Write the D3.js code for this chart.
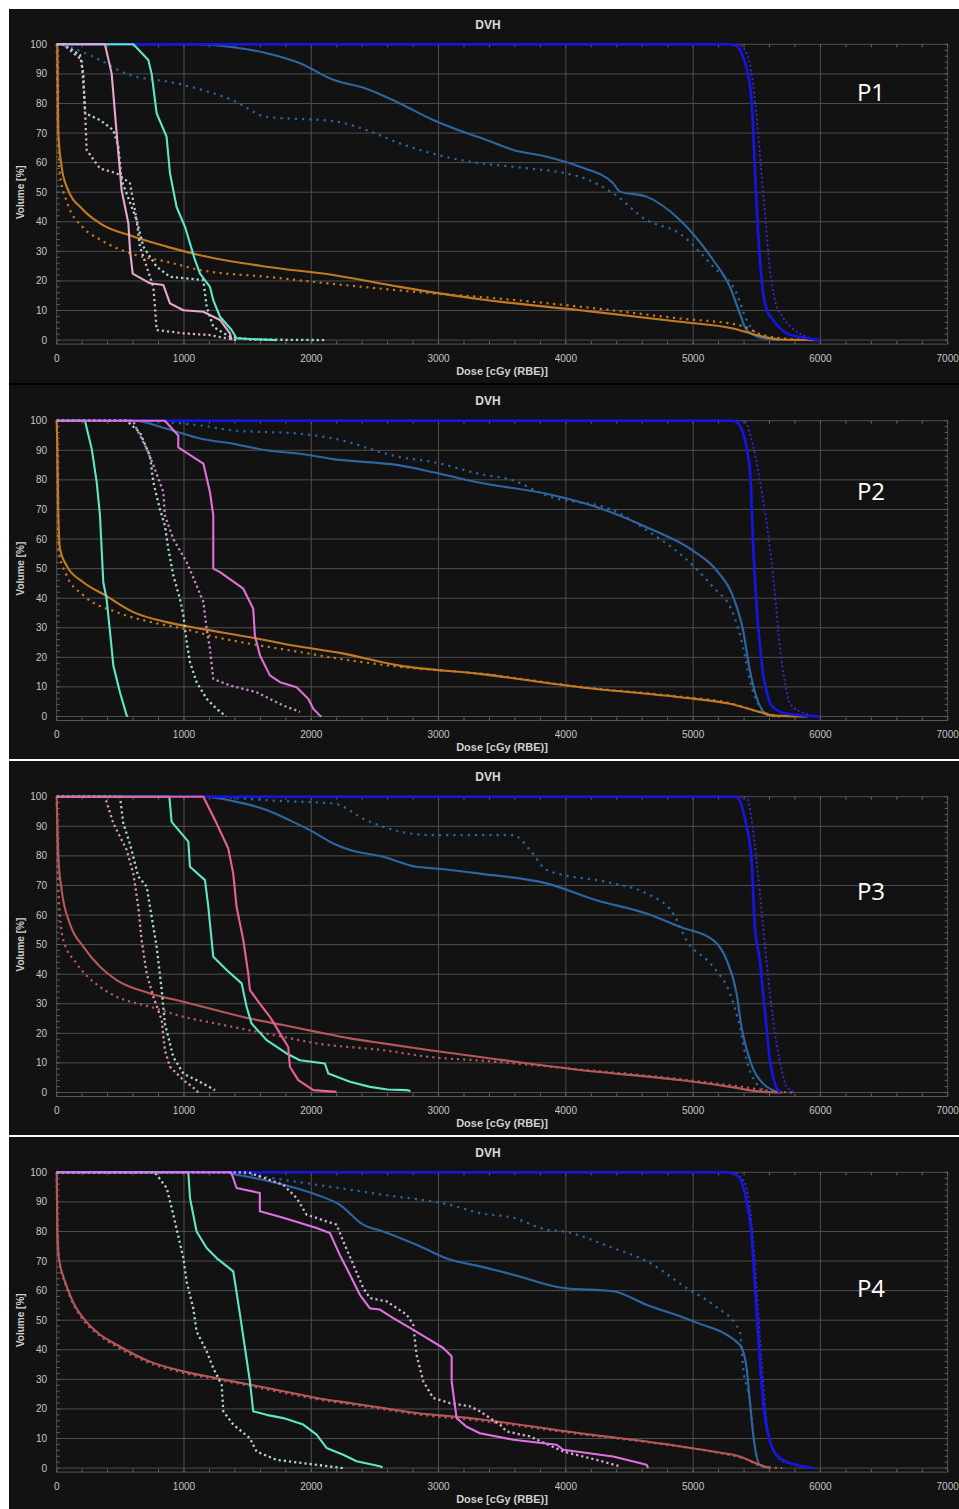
<!DOCTYPE html>
<html><head><meta charset="utf-8">
<script src="https://cdn.jsdelivr.net/npm/d3@7"></script>
<style>html,body{margin:0;padding:0;background:#fff;}svg{display:block;}</style>
</head><body>
<script>
// ---------------- DATA ----------------
const DOSE_TICKS = [0,1000,2000,3000,4000,5000,6000,7000];
const VOL_TICKS = [0,10,20,30,40,50,60,70,80,90,100];
const PANEL_LABELS = ["P1","P2","P3","P4"];
const CHART_TITLE = "DVH";
const X_TITLE = "Dose [cGy (RBE)]";
const Y_TITLE = "Volume [%]";

// Panel 1
const p1PtvSolid = [[0,100],[5250,100],[5340,99.5],[5390,96],[5420,92],[5459,81],[5485,58],[5511,36],[5535,22],[5550,16],[5580,10],[5629,6.8],[5734,2.3],[5850,1],[6000,0]];
const p1PtvDot = [[0,100],[5350,100],[5420,97],[5460,90],[5500,75],[5540,55],[5570,40],[5600,25],[5640,14],[5700,8],[5780,4],[5870,1.5],[6000,0]];
const p1SteelSolid = [[0,100],[1100,100],[1387,99],[1650,97],[1911,93.6],[2173,88],[2435,85],[2696,80],[2958,74.4],[3220,70],[3325,68.5],[3587,64.3],[3849,62],[4111,58.6],[4372,53],[4425,50.2],[4634,48.5],[4896,40.6],[5158,27],[5289,18],[5367,9],[5420,3.4],[5550,0.6],[5680,0]];
const p1SteelDot = [[0,100],[100,99],[340,94.7],[550,90],[942,86.8],[1387,81],[1649,75.5],[2173,74],[2435,71],[2696,66.5],[2958,63],[3325,59.8],[3587,58.6],[4111,55.2],[4372,49.6],[4634,40.6],[4896,36],[5158,24.8],[5341,15.8],[5420,6.8],[5550,1],[5680,0]];
const p1OrangeSolid = [[0,100],[5,99],[13,70],[39,58.6],[78,51.9],[209,44],[340,39.5],[602,35],[864,31.6],[1126,28.7],[1649,24.8],[2173,22],[2696,18],[3325,13.8],[4111,10.1],[4896,6.2],[5315,3.9],[5498,1.7],[5680,0.2],[6000,0]];
const p1OrangeDot = [[0,100],[3,90],[5,81],[26,56],[78,47],[209,38],[340,34],[602,29],[864,26.5],[1126,23.7],[1649,21.4],[2173,19],[2958,15.8],[3325,14.6],[4111,11.3],[4896,7.3],[5367,5],[5550,1.7],[5811,0.2],[5950,0]];
const p1CyanSolid = [[0,100],[602,100],[720,94.7],[746,90],[785,76.7],[863,68.8],[890,56.4],[942,45],[1008,38.3],[1047,32.7],[1087,27],[1126,22.5],[1204,18],[1230,13.5],[1283,7.9],[1374,3.4],[1413,0.6],[1727,0]];
const p1CyanDot = [[0,100],[50,100],[183,96.4],[209,90],[222,76.7],[340,74.4],[445,71],[484,65.4],[510,54],[628,40.6],[680,31.6],[785,24.8],[890,21.4],[1152,20.3],[1178,11.3],[1230,4.5],[1361,1.1],[1518,0.2],[2120,0]];
const p1PinkSolid = [[0,100],[379,100],[432,90],[471,70],[510,50.7],[563,39.5],[576,30.4],[597,22.5],[733,19.2],[838,18.6],[890,12.4],[995,10.1],[1152,9.6],[1283,6.8],[1361,2.3],[1374,0]];
const p1PinkDot = [[0,100],[50,100],[196,94.7],[222,79],[235,64.3],[340,58],[471,56.4],[576,53],[628,40.6],[654,31.6],[707,24.8],[759,18],[772,11.3],[785,3.4],[995,2.3],[1204,1.7],[1335,0.6],[1413,0]];

// Panel 2
const p2PtvSolid = [[0,100],[5300,100],[5342,99.5],[5390,96],[5420,91],[5452,79.8],[5472,57.3],[5503,34.7],[5530,22],[5550,14.4],[5580,8],[5616,3.7],[5734,0.9],[5995,0]];
const p2PtvDot = [[0,100],[5400,100],[5450,95],[5524,79.8],[5603,57],[5650,38],[5681,23.4],[5720,12],[5760,4.3],[5890,0.9],[6000,0]];
const p2SteelSolid = [[0,100],[602,100],[864,97.3],[1126,94],[1387,92.2],[1649,90],[1911,88.8],[2173,87],[2696,84.9],[2958,82.6],[3325,79],[3849,75.3],[4241,70.8],[4634,64],[5001,56],[5184,49.4],[5315,40.4],[5393,29],[5446,15.6],[5498,6.5],[5576,0.9],[5680,0]];
const p2SteelDot = [[0,100],[550,100],[1126,98.4],[1387,96.7],[1911,95.6],[2173,94],[2696,87.7],[2958,86],[3325,82],[3587,79.8],[3849,74.7],[4372,69.7],[4634,63],[4896,55],[5158,43.7],[5315,34.7],[5393,23.4],[5446,12.2],[5524,3.2],[5603,0.3],[5650,0]];
const p2OrangeSolid = [[0,100],[5,90.5],[13,68],[26,56.7],[78,51],[209,45.4],[380,41],[602,35.3],[864,31.9],[1126,29.7],[1518,26.8],[1780,24.6],[2225,21.5],[2696,17.2],[3325,14.4],[4111,9.9],[4896,6.5],[5289,4.3],[5524,1.5],[5629,0.3],[5900,0]];
const p2OrangeDot = [[0,100],[3,96],[13,56.7],[78,47.7],[209,41],[471,35.3],[733,32],[995,29.7],[1256,26.8],[1518,24.6],[1911,21.8],[2225,19.5],[2696,16.8],[3325,14.5],[4111,10],[4896,6.7],[5289,4.5],[5524,1.5],[5680,0]];
const p2CyanSolid = [[0,100],[222,100],[275,90.5],[314,79.3],[340,68],[353,56.7],[366,45.4],[392,39.8],[419,28.5],[445,17.2],[497,8.2],[550,0.3],[560,0]];
const p2CyanDot = [[0,100],[550,100],[654,96],[733,88],[759,79.3],[811,70],[850,64.6],[877,56.7],[916,47.7],[968,39.8],[995,34.2],[1021,25.1],[1047,18.4],[1099,11.6],[1178,6],[1256,2.6],[1322,0.3],[1330,0]];
const p2PinkSolid = [[0,100],[850,100],[955,95],[955,91],[1152,85.5],[1204,75.9],[1230,68],[1230,50],[1283,48.8],[1466,43.2],[1544,36.4],[1557,27.4],[1597,20.6],[1675,13.9],[1754,11.6],[1885,9.9],[1976,6],[2016,2.6],[2068,0.3],[2080,0]];
const p2PinkDot = [[0,100],[600,100],[628,97.3],[707,90.5],[759,85],[838,75.9],[850,68],[916,60],[1021,52.2],[1099,44.3],[1152,38.7],[1178,29.7],[1204,22.9],[1230,12.7],[1361,10.5],[1570,8.2],[1780,3.7],[1885,2],[1911,1.5]];

// Panel 3
const p3PtvSolid = [[0,100],[5320,100],[5355,99.5],[5400,94],[5420,89.9],[5459,78.6],[5485,56],[5524,44.8],[5550,33.5],[5576,22.2],[5603,10.9],[5642,3],[5681,0]];
const p3PtvDot = [[0,100],[5420,100],[5460,92],[5498,78.6],[5550,56],[5603,33.5],[5655,16.6],[5700,7],[5734,1.9],[5811,0]];
const p3SteelSolid = [[0,100],[1152,100],[1387,98.5],[1649,95.5],[1832,92],[1989,88.7],[2173,84.2],[2304,82],[2565,79.7],[2827,76.3],[2958,75.8],[3325,74],[3849,70.7],[4241,65],[4634,60.5],[4896,56],[5158,51.5],[5263,44.8],[5341,33.5],[5380,22.2],[5446,10.9],[5550,3],[5681,0]];
const p3SteelDot = [[0,100],[1126,100],[1780,98.5],[2173,97.7],[2435,92],[2696,88.2],[2958,87],[3587,87],[3718,82],[3849,75.2],[4372,70.7],[4634,67.3],[4843,60.5],[4948,51.5],[5158,42.5],[5289,33.5],[5367,22.2],[5420,10.9],[5498,3],[5603,0]];
const p3RoseSolid = [[0,100],[5,91],[13,79.7],[39,68.4],[104,57],[209,49.3],[340,42.5],[471,38],[733,33.5],[995,30.7],[1256,27.8],[1518,25],[1780,22.8],[2042,20.5],[2304,18.3],[2565,16.6],[2932,14.3],[3325,12],[4111,7.6],[4896,4.2],[5289,1.9],[5550,0.2],[5700,0]];
const p3RoseDot = [[0,100],[3,91],[13,68.4],[52,51.5],[157,43.6],[340,35.7],[471,32.4],[733,29],[995,25.6],[1256,23.3],[1518,21],[1780,18.8],[2042,16.6],[2565,14.3],[2932,12],[3325,10.8],[4111,7.8],[4896,4.5],[5367,2],[5681,0.2],[5800,0]];
const p3CyanSolid = [[0,100],[885,100],[903,91.5],[1034,84.8],[1047,76.3],[1165,71.8],[1191,62.8],[1230,45.9],[1335,41.4],[1453,36.9],[1492,29],[1531,23.3],[1649,17.7],[1806,13.2],[1911,10.9],[2107,9.8],[2134,6.4],[2304,3.6],[2461,1.9],[2600,1],[2749,0.8],[2780,0.5]];
const p3CyanDot = [[0,100],[497,100],[523,91],[576,84],[641,73],[707,69.6],[746,59.4],[785,49.3],[825,34.6],[850,23.3],[916,12],[995,6.4],[1152,3],[1243,0.8]];
const p3PinkSolid = [[0,100],[1152,100],[1256,91],[1348,82.5],[1387,74],[1413,62.8],[1466,51.5],[1505,40.2],[1518,34.6],[1597,30],[1675,25.6],[1754,20],[1819,15.4],[1832,8.7],[1898,4.2],[2016,0.8],[2199,0.2]];
const p3PinkDot = [[0,100],[379,100],[445,91],[550,82],[602,74],[641,62.8],[667,51.5],[707,40.2],[759,32.4],[825,24.5],[850,14.3],[890,8.7],[995,4.2],[1099,0.8],[1110,0]];

// Panel 4
const p4PtvSolid = [[0,100],[5230,100],[5320,99.5],[5367,98],[5420,90.2],[5459,79],[5485,62],[5511,45],[5550,22.5],[5603,9],[5681,3.4],[5812,1.1],[5943,0]];
const p4PtvDot = [[0,100],[5300,100],[5400,97],[5440,90],[5475,75],[5500,60],[5540,35],[5580,15],[5630,6],[5720,2],[5950,0]];
const p4SteelSolid = [[0,100],[1300,100],[1413,99.2],[1780,95.8],[2042,92.4],[2225,89],[2408,82.3],[2565,80],[2827,75.5],[3089,70.5],[3325,68.2],[3587,65.4],[3980,60.9],[4372,59.8],[4634,55.2],[5001,49.6],[5367,41.7],[5420,33.8],[5446,22.5],[5472,11.3],[5524,1.1],[5603,0]];
const p4SteelDot = [[0,100],[1400,100],[1518,99.2],[2042,95.8],[2565,92.4],[3089,89],[3325,86.2],[3587,84.6],[3849,80.6],[3980,80],[4372,74.4],[4634,70],[4948,60.9],[5158,55.2],[5367,46.2],[5393,33.8],[5446,22.5],[5472,11.3],[5524,1.1],[5600,0]];
const p4RoseSolid = [[0,100],[3,90],[5,80],[15,72],[26,68.8],[50,65],[78,61.5],[130,56],[209,50.7],[330,45.5],[471,41.7],[733,36],[995,32.7],[1256,30.4],[1518,28.2],[1780,26],[2042,23.7],[2304,22],[2565,20.3],[2827,18.6],[3246,16.9],[3325,16.5],[4111,11.8],[4634,9],[5158,5.6],[5367,3.9],[5524,1.1],[5603,0]];
const p4RoseDot = [[0,100],[3,85],[20,70],[70,62],[130,55.5],[209,50],[330,45],[471,41],[733,35.5],[995,32.2],[1256,30],[1518,27.8],[1780,25.5],[2042,23.3],[2304,21.6],[2565,19.9],[2827,18.2],[3325,16],[4111,11.5],[4634,8.8],[5158,5.5],[5400,3.2],[5560,0.5],[5700,0]];
const p4CyanSolid = [[0,100],[1034,100],[1047,91.3],[1099,80],[1178,74.4],[1256,71],[1387,66.5],[1400,63],[1440,51.9],[1479,40.6],[1518,29.3],[1544,19.2],[1649,18],[1780,16.9],[1937,14.7],[2042,11.3],[2120,6.8],[2251,4.5],[2356,2.3],[2539,0.6],[2560,0.3]];
const p4CyanDot = [[0,100],[760,100],[785,99.2],[864,94.7],[916,85.7],[995,71],[1021,63],[1073,54],[1099,46.2],[1178,39.5],[1230,33.8],[1296,28.2],[1309,19.2],[1387,14.7],[1518,10.1],[1570,5.6],[1727,2.8],[2042,1.1],[2251,0]];
const p4PinkSolid = [[0,100],[1370,100],[1387,98],[1413,94.7],[1596,93],[1596,86.8],[1780,84.6],[2042,81.2],[2146,79.5],[2225,72],[2304,65.4],[2382,58.6],[2461,54],[2539,53.6],[2644,50.7],[2775,47.4],[2906,44],[3037,40.6],[3103,37.8],[3103,29.3],[3142,16.9],[3220,14],[3325,11.8],[3587,9.6],[3928,7.9],[3980,6.2],[4372,3.9],[4634,1.1],[4647,0]];
const p4PinkDot = [[0,100],[1450,100],[1518,99.8],[1780,95.8],[1885,91.3],[1963,85.7],[2120,83.4],[2199,82.3],[2251,76.7],[2330,68.8],[2408,60.9],[2461,57.5],[2591,56.4],[2749,51.9],[2801,48.5],[2827,38.3],[2880,29.3],[2958,23.7],[3089,22],[3246,20.9],[3325,19.2],[3482,14.7],[3534,12.4],[3718,10.7],[3980,5.6],[4241,2.8],[4425,0.6]];

// ---------------- STYLES / LAYOUT ----------------
const W = 959, H = 1509;
const X0 = 56.7, X1 = 947.7;
const PANEL_TOP = [9, 385, 761, 1137];
const PANEL_BOTTOM = [383, 759, 1135, 1509];
const Y100 = [44.3, 420.7, 796.7, 1172.3];
const PLOT_H = 295.8;
const LABEL_Y = [92.7, 491.5, 891.5, 1289];
const BG = "#121212";

const STY = {
  ptv:   {c:"#1515e8", w:2.6, s:true},
  ptvD:  {c:"#3a2ad8", w:1.8, d:"2,2.5", s:true},
  steel: {c:"#2c67a3", w:2.1, s:true},
  steelD:{c:"#2c67a3", w:2.2, d:"2.2,5", s:true},
  orange:{c:"#c47a22", w:2.1, s:true},
  orangeD:{c:"#c47a22", w:2.2, d:"2.2,4.5", s:true},
  rose:  {c:"#b5585a", w:2.1, s:true},
  roseD: {c:"#b5585a", w:2.2, d:"2.2,4", s:true},
  cyan:  {c:"#5fe6c8", w:2.1},
  cyanD: {c:"#a9d9d2", w:2.3, d:"2.2,3"},
  pink1: {c:"#e8a8d0", w:2.1},
  pink1D:{c:"#d8b0c8", w:2.3, d:"2.2,3"},
  mag2:  {c:"#e070d8", w:2.1},
  mag2D: {c:"#cc8ccc", w:2.3, d:"2.2,3"},
  hot3:  {c:"#e8609a", w:2.1},
  hot3D: {c:"#d49ab8", w:2.3, d:"2.2,3"},
  mag4:  {c:"#e070e4", w:2.1},
  mag4D: {c:"#d8aed8", w:2.3, d:"2.2,3"}
};

const PANELS = [
  [[p1SteelDot,"steelD"],[p1SteelSolid,"steel"],[p1OrangeDot,"orangeD"],[p1OrangeSolid,"orange"],[p1PtvDot,"ptvD"],[p1PtvSolid,"ptv"],[p1CyanDot,"cyanD"],[p1PinkDot,"pink1D"],[p1CyanSolid,"cyan"],[p1PinkSolid,"pink1"]],
  [[p2SteelDot,"steelD"],[p2SteelSolid,"steel"],[p2OrangeDot,"orangeD"],[p2OrangeSolid,"orange"],[p2PtvDot,"ptvD"],[p2PtvSolid,"ptv"],[p2CyanDot,"cyanD"],[p2PinkDot,"mag2D"],[p2CyanSolid,"cyan"],[p2PinkSolid,"mag2"]],
  [[p3SteelDot,"steelD"],[p3SteelSolid,"steel"],[p3RoseDot,"roseD"],[p3RoseSolid,"rose"],[p3PtvDot,"ptvD"],[p3PtvSolid,"ptv"],[p3CyanDot,"cyanD"],[p3PinkDot,"hot3D"],[p3CyanSolid,"cyan"],[p3PinkSolid,"hot3"]],
  [[p4SteelDot,"steelD"],[p4SteelSolid,"steel"],[p4RoseDot,"roseD"],[p4RoseSolid,"rose"],[p4PtvDot,"ptvD"],[p4PtvSolid,"ptv"],[p4CyanDot,"cyanD"],[p4PinkDot,"mag4D"],[p4CyanSolid,"cyan"],[p4PinkSolid,"mag4"]]
];

// ---------------- DRAW ----------------
const svg = d3.select("body").append("svg").attr("width", W).attr("height", H);
svg.append("rect").attr("width", W).attr("height", H).attr("fill", "#fff");
svg.append("rect").attr("x",9).attr("y",383).attr("width",W-9).attr("height",2).attr("fill","#000");

const x = d3.scaleLinear().domain([0, 7000]).range([X0, X1]);
const minorDose = d3.range(0, 7001, 200);
const minorVol = d3.range(0, 101, 2);
const FONT = "Liberation Sans, Arial, sans-serif";

PANELS.forEach((series, i) => {
  const g = svg.append("g");
  g.append("rect").attr("x", 9).attr("y", PANEL_TOP[i]).attr("width", W - 9)
    .attr("height", PANEL_BOTTOM[i] - PANEL_TOP[i]).attr("fill", BG);
  const y = d3.scaleLinear().domain([0, 100]).range([Y100[i] + PLOT_H, Y100[i]]);
  const y0 = y(0), y1 = y(100);

  g.append("g").selectAll("line").data(VOL_TICKS).join("line")
    .attr("x1", X0).attr("x2", X1).attr("y1", d => y(d)).attr("y2", d => y(d))
    .attr("stroke", "#4e4e4e").attr("stroke-width", 1);
  g.append("g").selectAll("line").data(DOSE_TICKS).join("line")
    .attr("x1", d => x(d)).attr("x2", d => x(d)).attr("y1", y1).attr("y2", y0 + 4)
    .attr("stroke", "#4e4e4e").attr("stroke-width", 1);
  g.append("line").attr("x1", X0).attr("x2", X1).attr("y1", y0 + 4).attr("y2", y0 + 4)
    .attr("stroke", "#555").attr("stroke-width", 1);
  g.append("g").selectAll("line").data(minorDose).join("line")
    .attr("x1", d => x(d)).attr("x2", d => x(d)).attr("y1", y0 + 4).attr("y2", y0 + 1)
    .attr("stroke", "#666");
  g.append("g").selectAll("line").data(minorDose).join("line")
    .attr("x1", d => x(d)).attr("x2", d => x(d)).attr("y1", y1).attr("y2", y1 + 3)
    .attr("stroke", "#666");
  g.append("g").selectAll("line").data(minorVol).join("line")
    .attr("x1", X0).attr("x2", X0 + 3).attr("y1", d => y(d)).attr("y2", d => y(d))
    .attr("stroke", "#666");
  g.append("g").selectAll("line").data(minorVol).join("line")
    .attr("x1", X1 - 3).attr("x2", X1).attr("y1", d => y(d)).attr("y2", d => y(d))
    .attr("stroke", "#666");

  g.append("g").selectAll("text").data(VOL_TICKS).join("text")
    .attr("x", 47).attr("y", d => y(d)).attr("dy", "0.35em").attr("text-anchor", "end")
    .attr("font-family", FONT).attr("font-size", 10).attr("fill", "#c6c6c6").text(d => d);
  g.append("g").selectAll("text").data(DOSE_TICKS).join("text")
    .attr("x", d => x(d)).attr("y", y0 + 18).attr("dy", "0.35em").attr("text-anchor", "middle")
    .attr("font-family", FONT).attr("font-size", 10).attr("fill", "#c6c6c6").text(d => d);

  g.append("text").attr("x", 488).attr("y", y1 - 20).attr("dy", "0.35em")
    .attr("text-anchor", "middle").attr("font-family", FONT)
    .attr("font-weight", "bold").attr("font-size", 12).attr("fill", "#dcdcdc").text(CHART_TITLE);
  g.append("text").attr("x", 502).attr("y", y0 + 31).attr("dy", "0.35em")
    .attr("text-anchor", "middle").attr("font-family", FONT)
    .attr("font-weight", "bold").attr("font-size", 11).attr("fill", "#d0d0d0").text(X_TITLE);
  g.append("text").attr("transform", `translate(20,${y(50)}) rotate(-90)`).attr("dy", "0.35em")
    .attr("text-anchor", "middle").attr("font-family", FONT)
    .attr("font-weight", "bold").attr("font-size", 10).attr("fill", "#d0d0d0").text(Y_TITLE);

  const lineLin = d3.line().x(d => x(d[0])).y(d => y(d[1]));
  const lineSmooth = d3.line().x(d => x(d[0])).y(d => y(d[1])).curve(d3.curveMonotoneX);
  const cg = g.append("g");
  series.forEach(([data, key]) => {
    const s = STY[key];
    cg.append("path").attr("d", (s.s ? lineSmooth : lineLin)(data)).attr("fill", "none")
      .attr("stroke", s.c).attr("stroke-width", s.w)
      .attr("stroke-dasharray", s.d || null)
      .attr("stroke-linejoin", "round");
  });

  g.append("text").attr("x", 871).attr("y", LABEL_Y[i])
    .attr("dy", "0.35em").attr("text-anchor", "middle")
    .attr("font-family", "Open Sans, Noto Sans, sans-serif").attr("font-size", 24)
    .attr("fill", "#ffffff").text(PANEL_LABELS[i]);
});
</script>
</body></html>
